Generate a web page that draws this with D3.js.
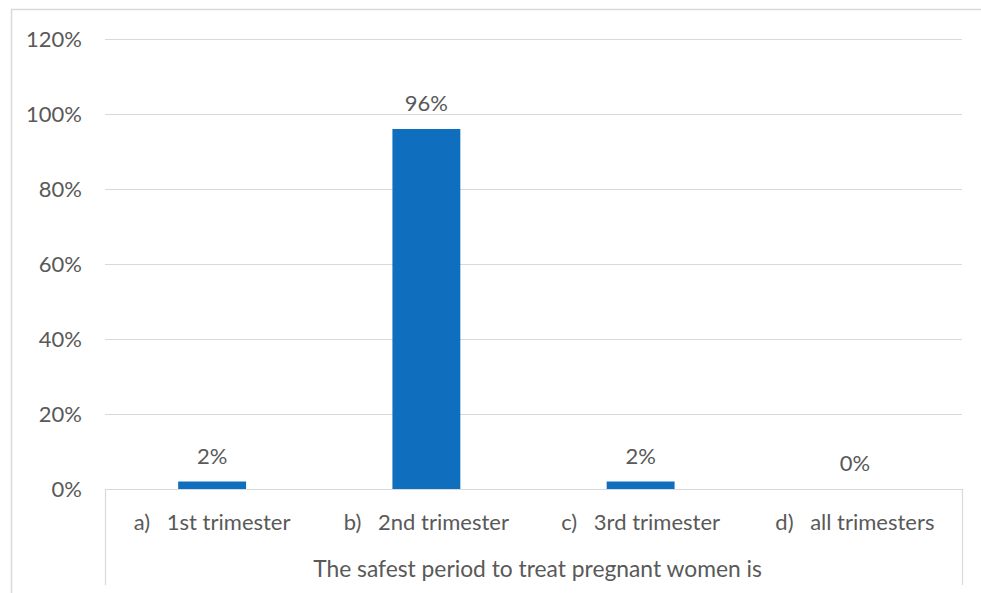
<!DOCTYPE html>
<html>
<head>
<meta charset="utf-8">
<script src="https://cdn.jsdelivr.net/npm/d3@7"></script>
<style>
  html, body { margin: 0; padding: 0; background: #fff; }
  svg { display: block; }
  text { font-family: Lato, "Open Sans", sans-serif; fill: #595959; }
</style>
</head>
<body>
<svg id="chart" width="981" height="593"></svg>
<script>
// Survey answers: "The safest period to treat pregnant women is"
const categories = ["a)\u2002 1st trimester", "b)\u2002 2nd trimester", "c)\u2002 3rd trimester", "d)\u2002 all trimesters"];
const values = [0.02, 0.96, 0.02, 0.00];
const valueLabels = ["2%", "96%", "2%", "0%"];
const yTicks = [0, 0.2, 0.4, 0.6, 0.8, 1.0, 1.2];
const axisTitle = "The safest period to treat pregnant women is";

const svg = d3.select("#chart");
const plot = { left: 105, right: 962, top: 39, bottom: 489 };
const fontSize = 22;

const x = d3.scaleBand()
  .domain(categories)
  .range([plot.left, plot.right])
  .paddingInner(0.683)
  .paddingOuter(0.3415);

const y = d3.scaleLinear().domain([0, 1.2]).range([plot.bottom, plot.top]);

// chart frame (top and left edges)
svg.append("path")
  .attr("d", `M11.5,600 V9.5 H990`)
  .attr("fill", "none")
  .attr("stroke", "#d9d9d9")
  .attr("stroke-width", 1.5);

// horizontal gridlines and percent tick labels
const yAxis = d3.axisLeft(y)
  .tickValues(yTicks)
  .tickFormat(d3.format(".0%"))
  .tickSize(-(plot.right - plot.left))
  .tickPadding(23);

const gy = svg.append("g")
  .attr("transform", `translate(${plot.left},0)`)
  .call(yAxis);
gy.select(".domain").remove();
gy.selectAll(".tick line").attr("stroke", "#d9d9d9").attr("stroke-width", 1);
gy.selectAll(".tick text")
  .style("font-size", fontSize + "px")
  .attr("fill", "#595959")
  .attr("dy", "0.35em");

// category box below the baseline
svg.append("path")
  .attr("d", `M${plot.left + 0.5},585 V${plot.bottom + 0.5} H${plot.right + 0.5} V585`)
  .attr("fill", "none")
  .attr("stroke", "#d9d9d9")
  .attr("stroke-width", 1.2);

// bars
svg.append("g").selectAll("rect")
  .data(values)
  .join("rect")
  .attr("x", (d, i) => x(categories[i]))
  .attr("width", x.bandwidth())
  .attr("y", d => y(d))
  .attr("height", d => y(0) - y(d))
  .attr("fill", "#106ebe");

// value labels above the bars
svg.append("g").selectAll("text")
  .data(values)
  .join("text")
  .attr("x", (d, i) => x(categories[i]) + x.bandwidth() / 2)
  .attr("y", d => y(d) - 18)
  .attr("text-anchor", "middle")
  .style("font-size", fontSize + "px")
  .text((d, i) => valueLabels[i]);

// category labels
svg.append("g").selectAll("text")
  .data(categories)
  .join("text")
  .attr("x", d => x(d) + x.bandwidth() / 2)
  .attr("y", 530)
  .attr("text-anchor", "middle")
  .style("font-size", fontSize + "px")
  .text(d => d);

// axis title
svg.append("text")
  .attr("x", (plot.left + plot.right) / 2 + 4)
  .attr("y", 577)
  .attr("text-anchor", "middle")
  .style("font-size", "22.8px")
  .text(axisTitle);
</script>
</body>
</html>
